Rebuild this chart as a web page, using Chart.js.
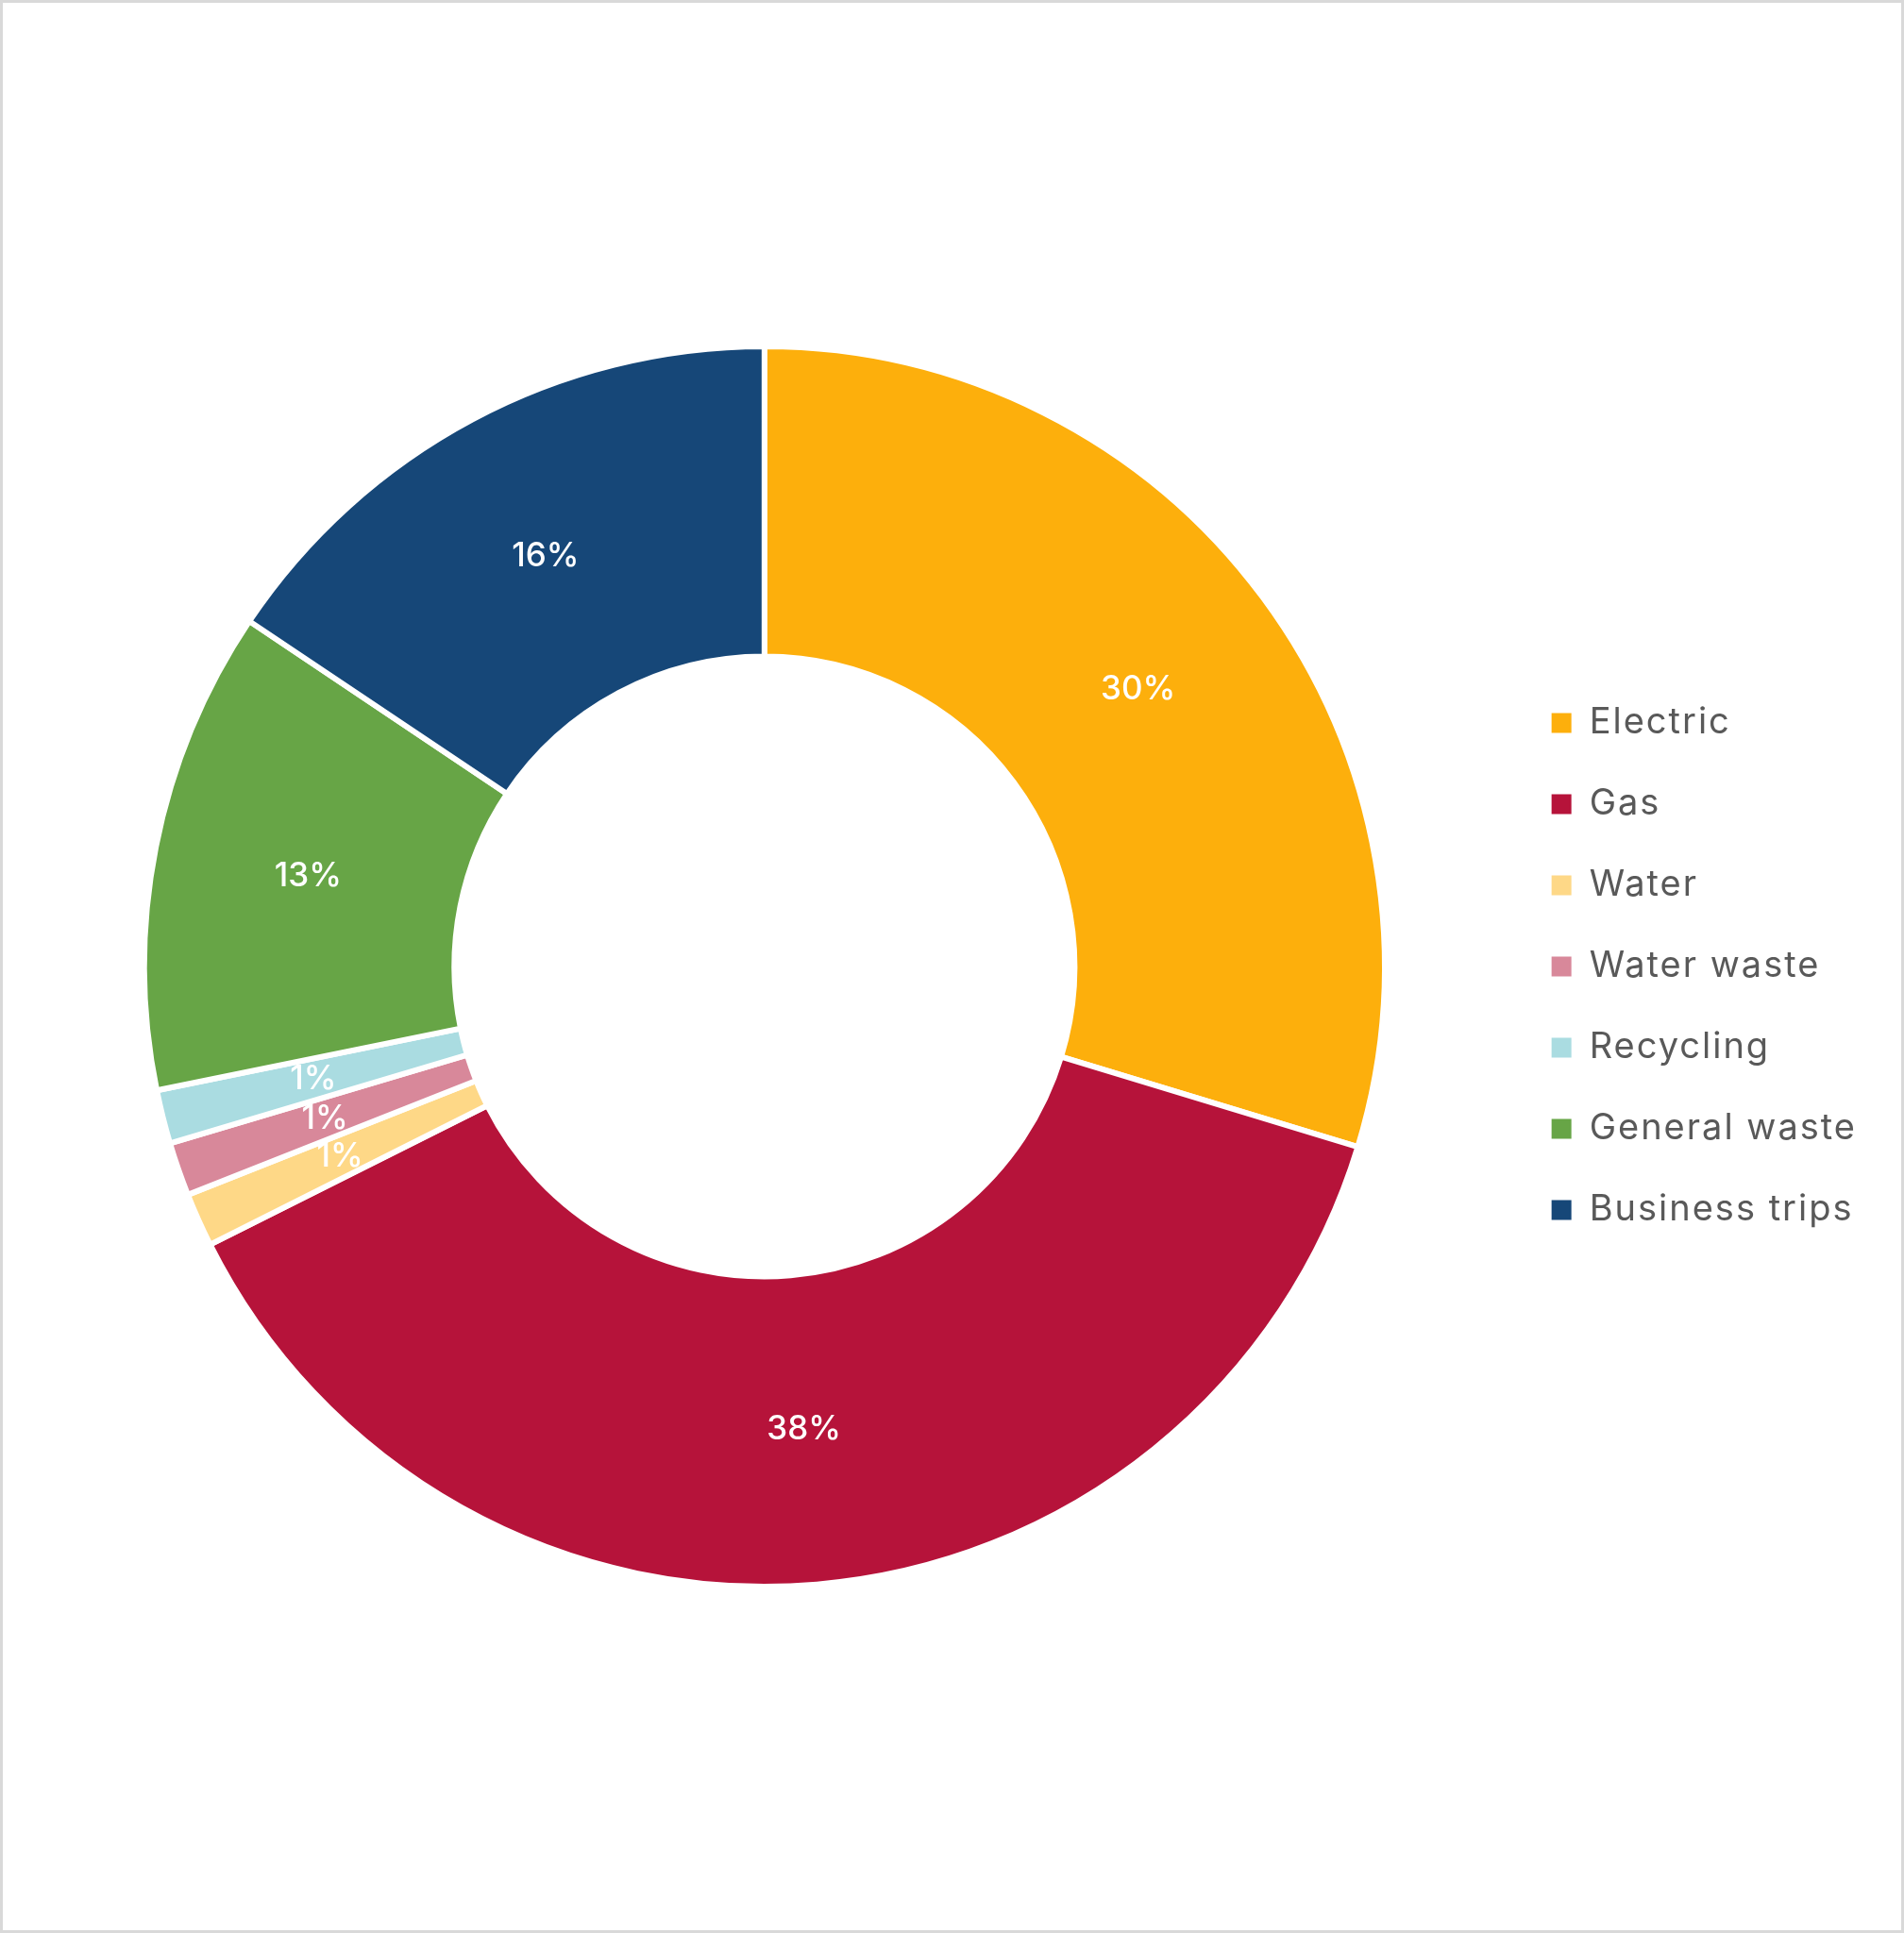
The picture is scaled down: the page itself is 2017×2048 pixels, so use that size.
<!DOCTYPE html>
<html>
<head>
<meta charset="utf-8">
<script src="https://cdn.jsdelivr.net/npm/chart.js@4/dist/chart.umd.min.js"></script>
<style>
  html, body { margin: 0; padding: 0; background: #fff; }
  .frame {
    width: 2017px; height: 2048px; box-sizing: border-box;
    border: 3px solid #d9d9d9; background: #fff;
  }
  .frame canvas { display: block; }
</style>
</head>
<body>
<div class="frame">
  <canvas id="myChart" width="2011" height="2042"></canvas>
</div>
<script>
const categories = ["Electric", "Gas", "Water", "Water waste", "Recycling", "General waste", "Business trips"]
const shares = [29.7, 37.9, 1.4, 1.4, 1.4, 12.6, 15.6]
const colors = ["#FDAF0C", "#B6133A", "#FED887", "#D8889A", "#AADCE1", "#67A546", "#164778"]

// the original font is wider, so space the legend letters out a little
const wideText = {
    id: 'wideText',
    beforeUpdate(chart) { chart.ctx.letterSpacing = '2px' },
    beforeDraw(chart) { chart.ctx.letterSpacing = '2px' },
}

// white percentage labels in the middle of each ring slice
const sliceLabels = {
    id: 'sliceLabels',
    afterDatasetsDraw(chart) {
        const ctx = chart.ctx
        const meta = chart.getDatasetMeta(0)
        ctx.save()
        ctx.letterSpacing = '0px'
        ctx.fillStyle = '#ffffff'
        ctx.font = '500 35px Inter, "Open Sans", sans-serif'
        ctx.textAlign = 'center'
        ctx.textBaseline = 'middle'
        meta.data.forEach((arc, i) => {
            const p = arc.getCenterPoint()
            ctx.fillText(Math.round(shares[i]) + '%', p.x, p.y)
        })
        ctx.restore()
    }
}

const ctx = document.getElementById('myChart').getContext('2d')

const myChart = new Chart(ctx, {
    type: 'doughnut',
    data: {
        labels: categories,
        datasets: [
            {
                data: shares,
                backgroundColor: colors,
                borderColor: '#ffffff',
                borderWidth: 6,
            },
        ],
    },
    options: {
        responsive: false,
        animation: false,
        cutout: '50%',
        layout: {
            padding: { top: 361, bottom: 361, left: 21, right: 37 },
        },
        plugins: {
            tooltip: { enabled: false },
            legend: {
                position: 'right',
                labels: {
                    boxWidth: 21,
                    boxHeight: 21,
                    padding: 48,
                    color: '#595959',
                    font: { family: 'Inter, "Open Sans", sans-serif', size: 38 },
                    generateLabels(chart) {
                        const items = Chart.overrides.doughnut.plugins.legend.labels.generateLabels(chart)
                        items.forEach(it => { it.lineWidth = 0; it.strokeStyle = it.fillStyle })
                        return items
                    },
                },
            },
        },
    },
    plugins: [wideText, sliceLabels],
});
</script>
</body>
</html>
